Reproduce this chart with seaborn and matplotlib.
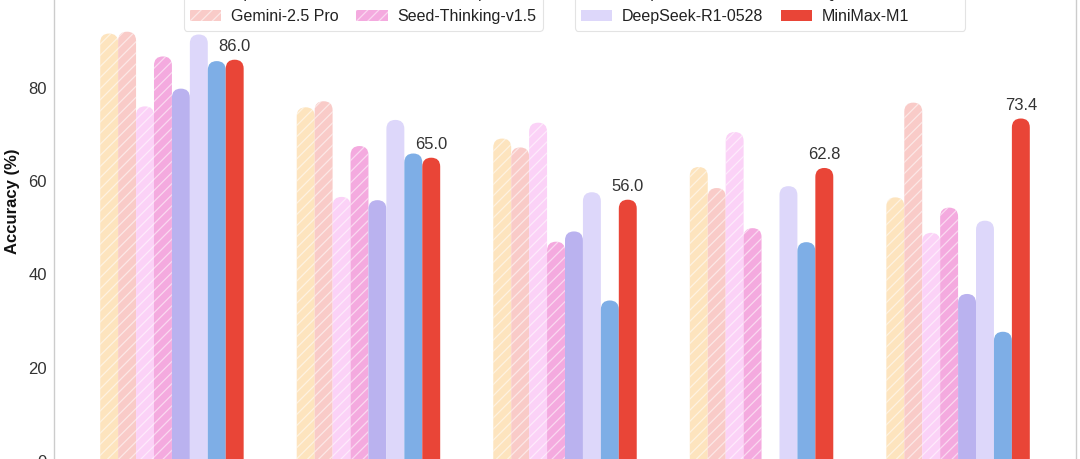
import numpy as np
import pandas as pd
import matplotlib
matplotlib.use("Agg")
import matplotlib.pyplot as plt
import seaborn as sns
from matplotlib.patches import FancyBboxPatch, Patch

# ---------------- data ----------------
categories = ["AIME 2024", "LiveCodeBench", "SWE-bench Verified", "TAU-bench", "OpenAI-MRCR (128k)"]
models = ["OpenAI-o3", "Gemini-2.5 Pro", "Claude 4 Opus", "Seed-Thinking-v1.5",
          "DeepSeek-R1", "DeepSeek-R1-0528", "Qwen3-235B-A22B", "MiniMax-M1"]

openai_o3 = [91.6, 75.8, 69.1, 63.0, 56.5]
gemini_25_pro = [92.0, 77.1, 67.2, 58.5, 76.8]
claude_4_opus = [76.0, 56.6, 72.5, 70.5, 48.9]
seed_thinking = [86.7, 67.5, 47.0, 49.9, 54.3]
deepseek_r1 = [79.8, 55.9, 49.2, np.nan, 35.8]
deepseek_r1_0528 = [91.4, 73.1, 57.6, 58.9, 51.5]
qwen3_235b = [85.7, 65.9, 34.4, 46.9, 27.7]
minimax_m1 = [86.0, 65.0, 56.0, 62.8, 73.4]

series = [openai_o3, gemini_25_pro, claude_4_opus, seed_thinking,
          deepseek_r1, deepseek_r1_0528, qwen3_235b, minimax_m1]

colors = ["#FDE4BE", "#F9CBC8", "#FBD2F7", "#F4AADF",
          "#BAB2EF", "#DDD7FA", "#7EAEE6", "#E94537"]
hatched = [True, True, True, True, False, False, False, False]
hatch_edge = (1, 1, 1, 0.55)

# ---------------- style ----------------
sns.set_theme(style="white")
plt.rcParams['font.family'] = ['Liberation Sans', 'DejaVu Sans']
plt.rcParams['hatch.linewidth'] = 0.9

rows = []
for m, vals in zip(models, series):
    for c, v in zip(categories, vals):
        rows.append(dict(Benchmark=c, Model=m, Accuracy=v))
df = pd.DataFrame(rows)

fig = plt.figure(figsize=(10.8, 4.59), dpi=100)
ax_pos = [0.05, -0.0044, 0.9463, 1.1336]
ax = fig.add_axes(ax_pos)

sns.barplot(data=df, x="Benchmark", y="Accuracy", hue="Model",
            order=categories, hue_order=models, palette=colors,
            width=0.73, dodge=True, legend=False, errorbar=None,
            saturation=1, ax=ax)

xlim = (-0.6, 4.6)
ylim = (0, 111.5)
ax.set_xlim(*xlim)
ax.set_ylim(*ylim)

# pixel aspect for rounded caps
ax_w_px = ax_pos[2] * 1080
ax_h_px = ax_pos[3] * 459
px_per_x = ax_w_px / (xlim[1] - xlim[0])
px_per_y = ax_h_px / (ylim[1] - ylim[0])
aspect = px_per_x / px_per_y

ext = 5.0
for i, cont in enumerate(ax.containers):
    for bar in cont.patches:
        x, w, h = bar.get_x(), bar.get_width(), bar.get_height()
        bar.remove()
        if h is None or np.isnan(h):
            continue
        p = FancyBboxPatch((x, -ext), w, h + ext,
                           boxstyle=f"round,pad=0,rounding_size={w/2}",
                           mutation_aspect=aspect,
                           facecolor=colors[i],
                           edgecolor=hatch_edge if hatched[i] else colors[i],
                           linewidth=0,
                           hatch="///" if hatched[i] else None,
                           zorder=2)
        ax.add_patch(p)
        if models[i] == "MiniMax-M1":
            ax.annotate(f"{h:.1f}", (x + w / 2, h), xytext=(0, 4),
                        textcoords="offset points", ha="center", va="bottom",
                        fontsize=12, color="#333333")

ax.set_yticks([0, 20, 40, 60, 80, 100])
ax.tick_params(axis="y", labelsize=12, labelcolor="#333333", length=0, pad=5)
ax.tick_params(axis="x", length=0)
ax.set_xticklabels([])
ax.set_xlabel("")
ax.set_ylabel("Accuracy (%)", fontsize=12, fontweight="bold", color="#111111")
ax.yaxis.set_label_coords(-0.033, 0.5)
for s in ax.spines.values():
    s.set_color("#cccccc")
    s.set_linewidth(1.0)

# legends
def handle(i):
    return Patch(facecolor=colors[i], edgecolor=hatch_edge if hatched[i] else colors[i],
                 linewidth=0, hatch="///" if hatched[i] else None, label=models[i])

leg_kw = dict(loc="lower left", ncol=2, fontsize=11.5, frameon=True, borderaxespad=0,
              handlelength=1.97, handleheight=0.62, handletextpad=0.6,
              columnspacing=1.1, borderpad=0.4, labelspacing=0.5,
              edgecolor="#e3e3e3", fancybox=True, framealpha=1)
leg1 = fig.legend(handles=[handle(i) for i in range(4)],
                  bbox_to_anchor=(183.5 / 1080, 1 - 30.5 / 459), **leg_kw)
leg2 = fig.legend(handles=[handle(i) for i in range(4, 8)],
                  bbox_to_anchor=(574.5 / 1080, 1 - 30.5 / 459), **leg_kw)
for lg in (leg1, leg2):
    lg.get_frame().set_linewidth(0.8)
    for t in lg.get_texts():
        t.set_color("#222222")

fig.savefig("out.png", dpi=100, facecolor="white")
